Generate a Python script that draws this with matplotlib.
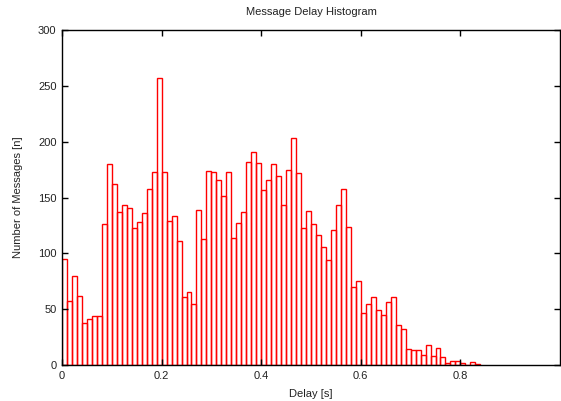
import numpy as np
import matplotlib
matplotlib.use('Agg')
import matplotlib.pyplot as plt

plt.rcParams['font.family'] = ['Liberation Sans', 'DejaVu Sans']

BIN_WIDTH = 0.01

# message counts per 10 ms bin, starting at 0 s
counts = [95, 57, 80, 62, 38, 41, 44, 44, 126, 180,
          162, 137, 143, 141, 123, 128, 136, 158, 173, 257,
          173, 129, 133, 111, 61, 65, 55, 139, 113, 174,
          173, 166, 151, 173, 114, 127, 137, 182, 191, 181,
          157, 166, 180, 169, 143, 175, 203, 172, 123, 138,
          126, 116, 106, 94, 121, 143, 158, 124, 70, 75,
          47, 55, 61, 49, 45, 56, 61, 36, 32, 14,
          13, 13, 9, 18, 8, 15, 7, 2, 4, 4,
          2, 0, 3, 1]

xticks = [0, 0.2, 0.4, 0.6, 0.8]
xtick_labels = ['0', '0.2', '0.4', '0.6', '0.8']
yticks = [0, 50, 100, 150, 200, 250, 300]

left_edges = np.arange(len(counts)) * BIN_WIDTH

fig = plt.figure(figsize=(5.61, 4.01), dpi=100)
ax = fig.add_axes([62/561, 1 - 365/401, (560 - 62)/561, (365 - 30)/401])

ax.bar(left_edges, counts, width=BIN_WIDTH, align='edge',
       fill=False, edgecolor='#ff0000', linewidth=1.0)

ax.set_xlim(0, 1.0)
ax.set_ylim(0, 300)
ax.set_xticks(xticks)
ax.set_xticklabels(xtick_labels)
ax.set_yticks(yticks)
ax.tick_params(direction='in', length=4, width=1, labelsize=8,
               top=True, right=True, pad=4, labelcolor='#222222')
for s in ax.spines.values():
    s.set_linewidth(1.0)

# title sits close to the top edge, like gnuplot does it
fig.text((62 + 560) / 2 / 561, 1 - 12/401, 'Message Delay Histogram',
         fontsize=8, color='#222222', ha='center', va='center')
ax.set_xlabel('Delay [s]', fontsize=8, labelpad=6, color='#222222')
ax.set_ylabel('Number of Messages [n]', fontsize=8, labelpad=11, color='#222222')

fig.savefig('out.png', dpi=100)
